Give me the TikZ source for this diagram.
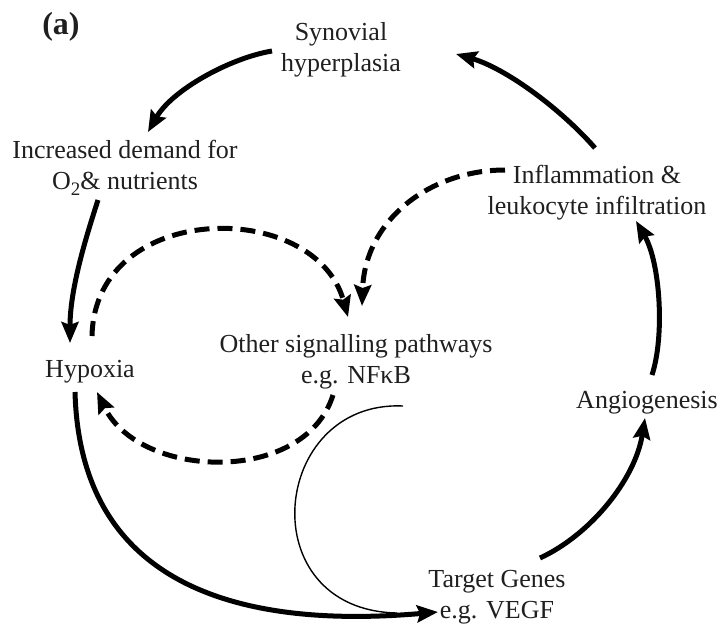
\documentclass[tikz,border=0pt]{standalone}
\usepackage{fontspec}
\setmainfont{Liberation Serif}
\usetikzlibrary{arrows.meta}
\begin{document}
\begin{tikzpicture}[x=1pt,y=-1pt,
  lbl/.style={align=center,inner sep=0pt,text=black!88,font=\fontsize{26}{31}\selectfont},
  tip/.style={-{Stealth[length=21pt,width=17pt,inset=3pt]}},
  solidarrow/.style={line width=5pt,tip},
  dasharrow/.style={line width=5pt,dash pattern=on 15pt off 8pt,tip},
  thinline/.style={line width=1.4pt}]
\useasboundingbox (0,0) rectangle (721,633);
% labels
\node[lbl,font=\fontsize{32}{32}\selectfont\bfseries] (lab) at (61,27) {(a)};
\node[lbl] (syn) at (341,50) {Synovial\\hyperplasia};
\node[lbl] (dem) at (125,168) {Increased demand for\\O\raisebox{-6pt}{\fontsize{19}{19}\selectfont 2}\& nutrients};
\node[lbl] (inf) at (597,193) {Inflammation \&\\leukocyte infiltration};
\node[lbl] (oth) at (356,362) {Other signalling pathways\\e.g. NFκB};
\node[lbl] (hyp) at (90,372) {Hypoxia};
\node[lbl] (ang) at (647,403) {Angiogenesis};
\node[lbl] (tgt) at (497,597) {Target Genes\\e.g. VEGF};
% connector end points
\coordinate (synL) at (272,51);
\coordinate (demT) at (148,132);
\coordinate (demB) at (98,200);
\coordinate (hypT) at (70,343);
\coordinate (hypB) at (75,392);
\coordinate (tgtL) at (438,612);
\coordinate (tgtR) at (540,558);
\coordinate (angB) at (645,418);
\coordinate (angT) at (652,375);
\coordinate (infB) at (636,221);
\coordinate (infT) at (595,148);
\coordinate (synR) at (456,54);
\coordinate (hypTR) at (92,336);
\coordinate (othT) at (348,317);
\coordinate (othB) at (333,395);
\coordinate (hypR) at (97,392);
\coordinate (infL) at (505,170);
\coordinate (othTR) at (362,306);
\coordinate (othBR) at (403,406);
\coordinate (tgtJ) at (397,613);
% main cycle
\draw[solidarrow] (synL) .. controls (230,58) and (172,90) .. (demT);
\draw[solidarrow] (demB) .. controls (85,240) and (70,290) .. (hypT);
\draw[solidarrow] (hypB) .. controls (80,580) and (230,630) .. (tgtL);
\draw[solidarrow] (tgtR) .. controls (590,535) and (635,480) .. (angB);
\draw[solidarrow] (angT) .. controls (665,335) and (660,262) .. (infB);
\draw[solidarrow] (infT) .. controls (560,108) and (505,68) .. (synR);
% dashed loops
\draw[dasharrow] (hypTR) .. controls (95,200) and (315,198) .. (othT);
\draw[dasharrow] (othB) .. controls (305,485) and (140,480) .. (hypR);
\draw[dasharrow] (infL) .. controls (430,170) and (365,220) .. (othTR);
% thin feedback
\draw[thinline] (othBR) .. controls (270,400) and (250,610) .. (tgtJ);
\end{tikzpicture}
\end{document}
